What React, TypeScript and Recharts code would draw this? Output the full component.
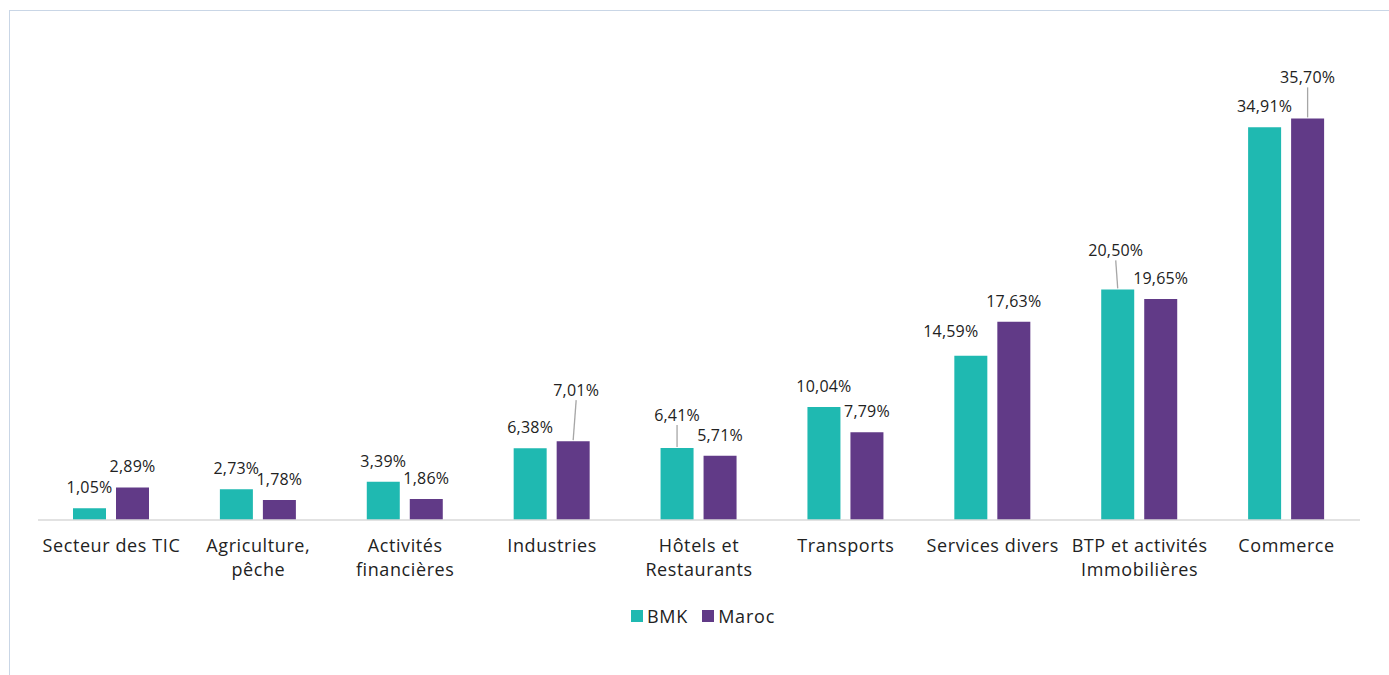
import React from 'react';
import { BarChart, Bar, XAxis, YAxis, Legend, LabelList } from 'recharts';

const TEAL = '#1FB9B1';
const PURPLE = '#613A87';
const FONT = '"Open Sans", "Noto Sans", sans-serif';

const categories = [
  'Secteur des TIC',
  'Agriculture,\npêche',
  'Activités\nfinancières',
  'Industries',
  'Hôtels et\nRestaurants',
  'Transports',
  'Services divers',
  'BTP et activités\nImmobilières',
  'Commerce',
];
const bmk = [1.05, 2.73, 3.39, 6.38, 6.41, 10.04, 14.59, 20.5, 34.91];
const maroc = [2.89, 1.78, 1.86, 7.01, 5.71, 7.79, 17.63, 19.65, 35.7];

// label nudges (index -> [dx, dy]) where the original moved labels to avoid overlap
const bmkShift: Record<number, [number, number]> = { 4: [0, -12], 6: [-20, -4], 7: [-2, -18] };
const marocShift: Record<number, [number, number]> = { 3: [3, -30], 8: [0, -20] };

const data = categories.map((c, i) => ({ name: c, BMK: bmk[i], Maroc: maroc[i] }));

const fmt = (v: number) => v.toFixed(2).replace('.', ',') + '%';

function makeLabel(shift: Record<number, [number, number]>) {
  return (props: any) => {
    const { x, y, width, value, index } = props;
    const cx = x + width / 2;
    const [dx, dy] = shift[index] || [0, 0];
    const ly = y - 21 + dy;
    const lx = cx + dx;
    return (
      <g>
        {dy < -8 && (
          <line x1={lx} y1={ly + 10} x2={cx} y2={y - 1} stroke="#A6A6A6" strokeWidth={1.3} />
        )}
        <text x={lx} y={ly} textAnchor="middle" dominantBaseline="central" fontFamily={FONT} fontSize={16} letterSpacing={0.2} fill="#222">
          {fmt(value)}
        </text>
      </g>
    );
  };
}

function CatTick({ x, y, payload }: any) {
  const lines = String(payload.value).split('\n');
  return (
    <text x={x} y={y} textAnchor="middle" fontFamily={FONT} fontSize={18} letterSpacing={0.6} fill="#222">
      {lines.map((l, i) => (
        <tspan key={i} x={x} dy={24}>{l}</tspan>
      ))}
    </text>
  );
}

function LegendBox() {
  const items = [
    { label: 'BMK', color: TEAL },
    { label: 'Maroc', color: PURPLE },
  ];
  return (
    <div style={{ height: 85, display: 'flex', justifyContent: 'center', paddingTop: 16, paddingLeft: 8, boxSizing: 'border-box', fontFamily: FONT, fontSize: 18, letterSpacing: 0.8, color: '#222' }}>
      {items.map((it, i) => (
        <div key={it.label} style={{ display: 'flex', alignItems: 'center', marginRight: i === 0 ? 14 : 0, height: 20 }}>
          <span style={{ width: 12, height: 12, background: it.color, display: 'inline-block', marginRight: 4 }} />
          <span>{it.label}</span>
        </div>
      ))}
    </div>
  );
}

export default function App() {
  return (
    <div style={{ position: 'absolute', left: 0, top: 0, width: 1389, height: 675, overflow: 'hidden', background: '#fff' }}>
      <div style={{ position: 'absolute', left: 9, top: 10, width: 1400, height: 700, border: '1px solid #C9D6E6' }} />
      <div style={{ position: 'absolute', left: 0, top: 0 }}>
        <BarChart
          width={1389}
          height={675}
          data={data}
          margin={{ top: 70, right: 29, left: 38, bottom: 0 }}
          barSize={33}
          barGap={10}
        >
          <XAxis
            dataKey="name"
            interval={0}
            tickLine={false}
            axisLine={{ stroke: '#D9D9D9', strokeWidth: 1.5 }}
            height={70}
            tick={<CatTick />}
          />
          <YAxis hide domain={[0, 40]} />
          <Legend verticalAlign="bottom" content={<LegendBox />} />
          <Bar dataKey="BMK" fill={TEAL} isAnimationActive={false}>
            <LabelList dataKey="BMK" content={makeLabel(bmkShift)} />
          </Bar>
          <Bar dataKey="Maroc" fill={PURPLE} isAnimationActive={false}>
            <LabelList dataKey="Maroc" content={makeLabel(marocShift)} />
          </Bar>
        </BarChart>
      </div>
    </div>
  );
}
